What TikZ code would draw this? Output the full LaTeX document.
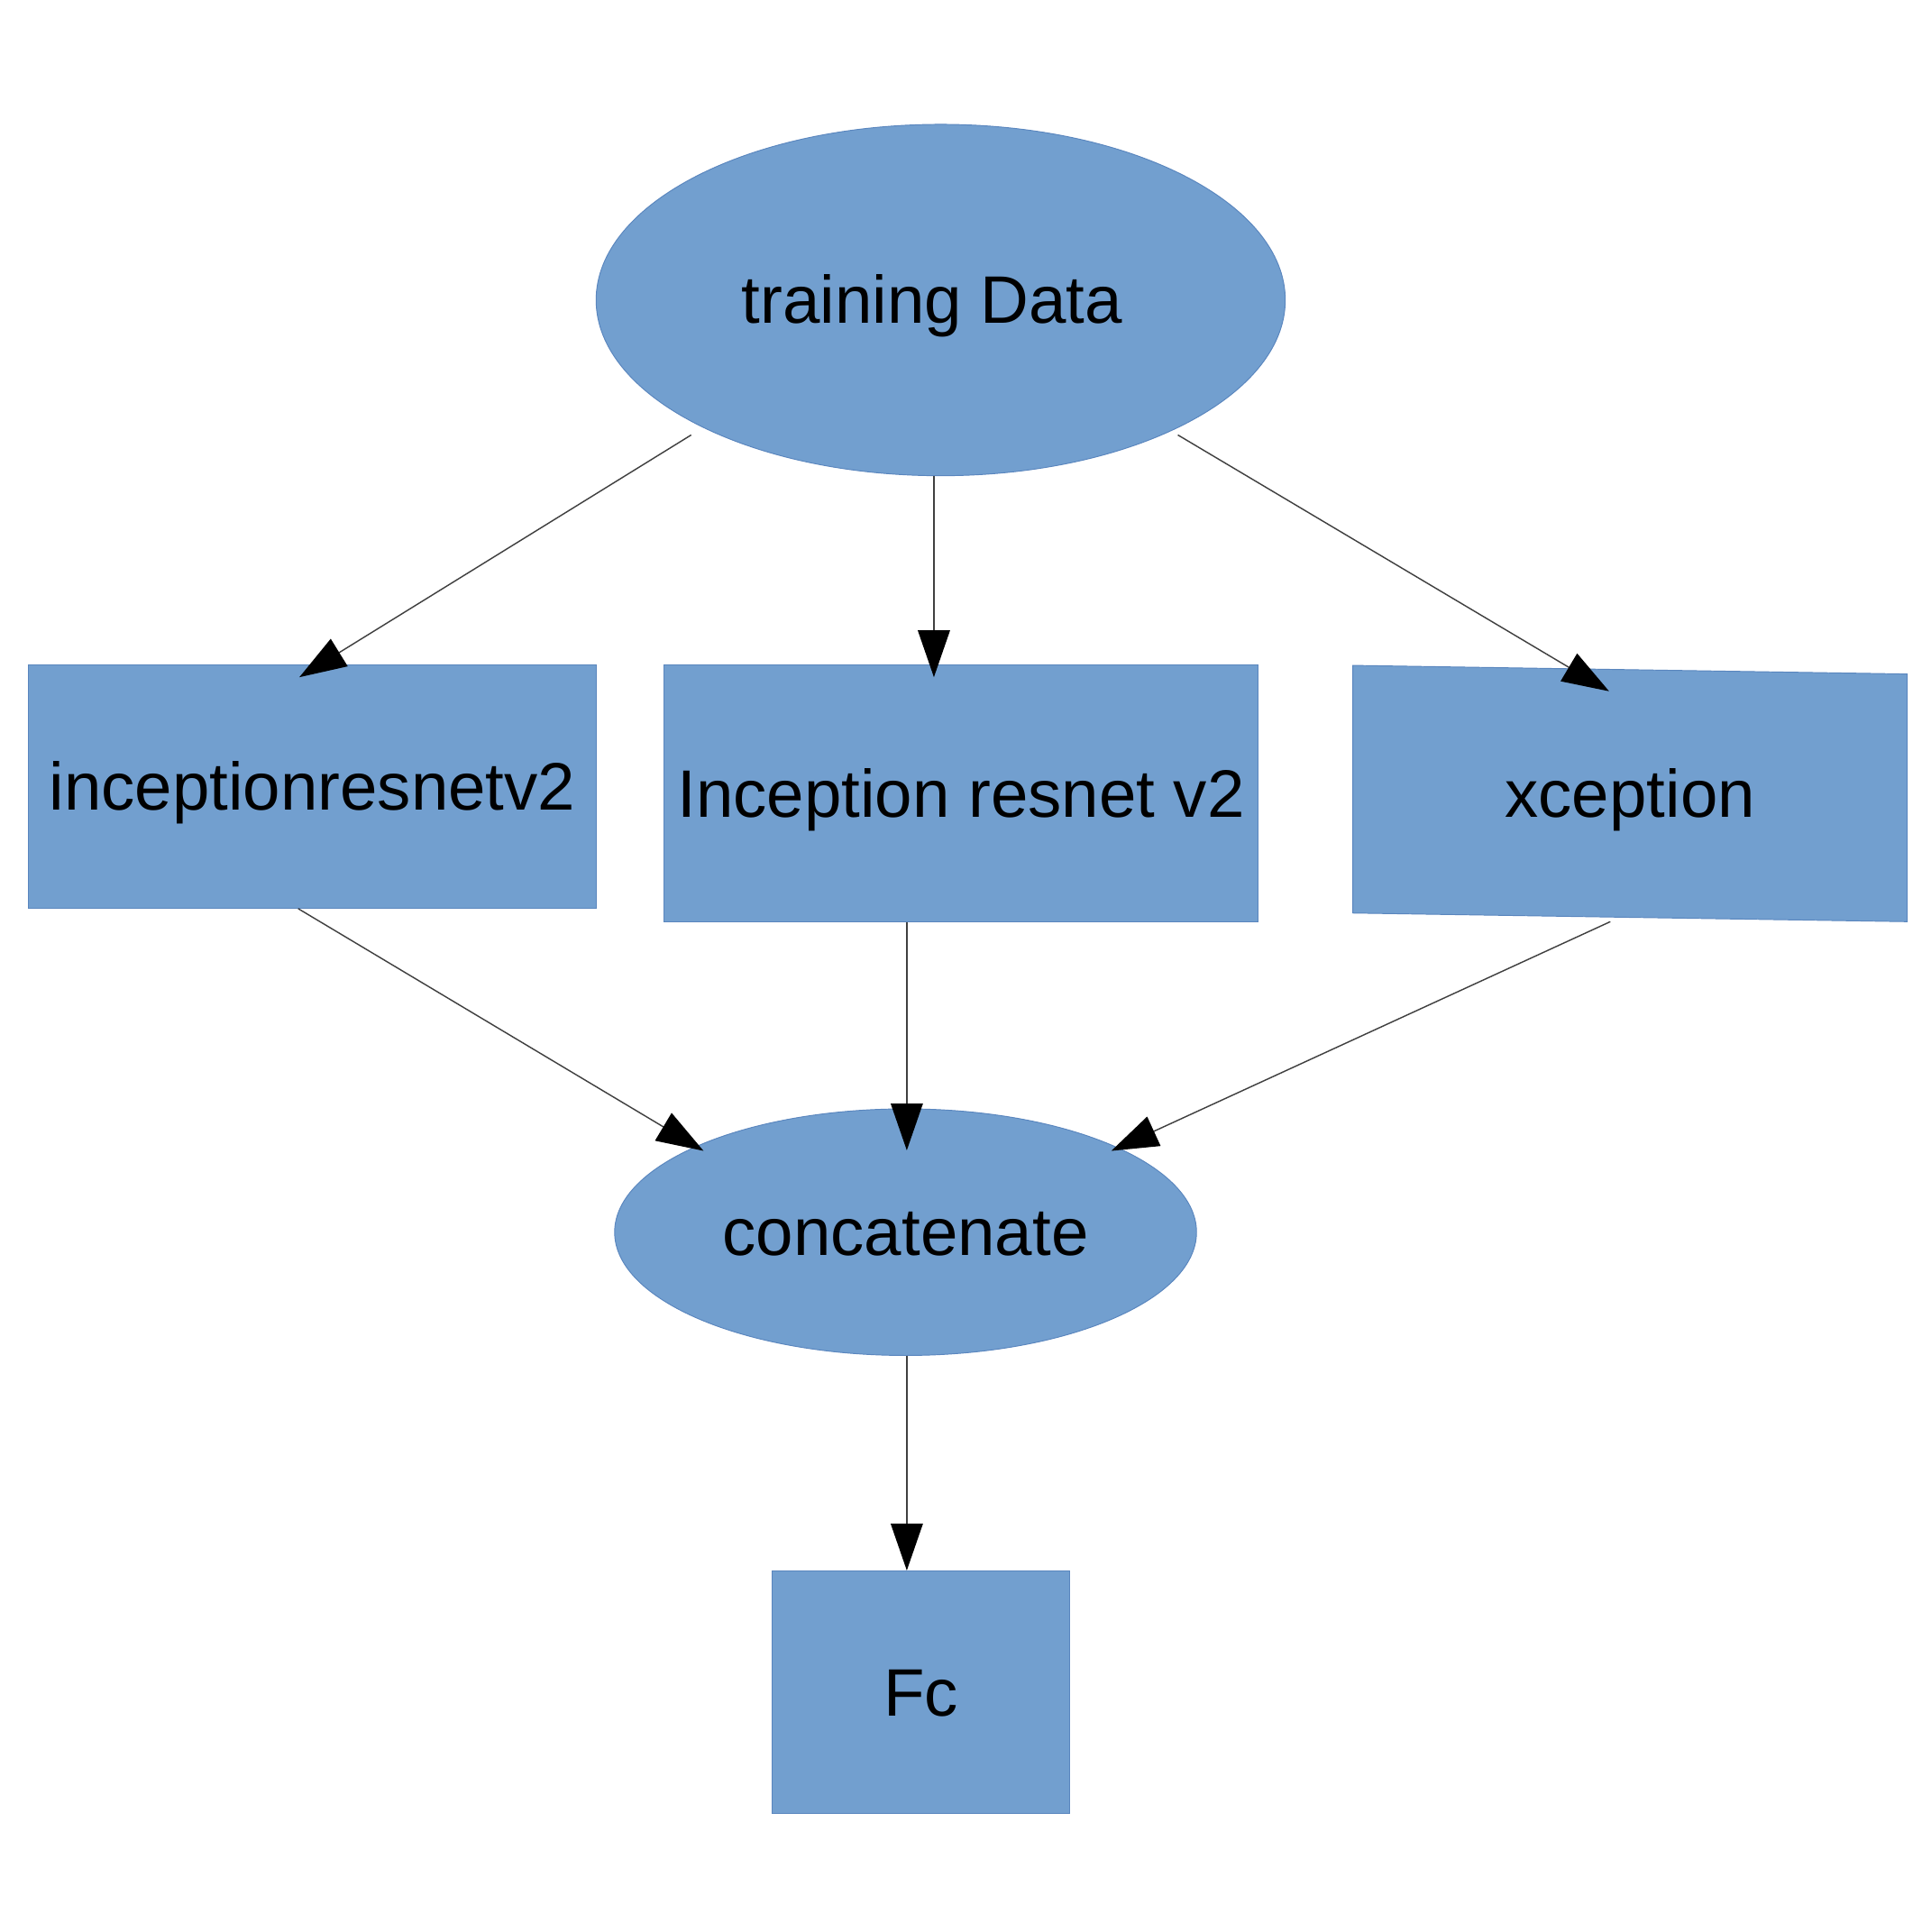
\documentclass[tikz,border=0pt]{standalone}
\usepackage{fontspec}
\setmainfont{Liberation Sans}
\usetikzlibrary{arrows.meta,shapes.geometric}

\definecolor{boxfill}{HTML}{729FCF}
\definecolor{boxedge}{HTML}{5A86BE}

\tikzset{%
    blocktext/.style = {%
        inner sep = 0pt,
        text height = 13pt,
        text depth = 2.2pt,
        font = \fontsize{15.5}{18}\selectfont,
    },
    blockbox/.style = {%
        blocktext,
        rectangle,
        fill = boxfill,
        draw = boxedge,
        line width = 0.2pt,
    },
    blockoval/.style = {%
        blockbox,
        ellipse,
    },
    flowarrow/.style = {%
        draw = black!75,
        line width = 0.3pt,
        -{Triangle[length = 0.38cm, width = 0.26cm, color = black]},
    },
}

\begin{document}
\begin{tikzpicture}[x = 0.01cm, y = -0.01cm]

        % Page frame, measured from the top left corner.
        \useasboundingbox (0, 0) rectangle (1567, 1568);

        % Input and the three backbones.
        \node[blockoval, minimum width = 5.59cm, minimum height = 2.85cm]
            (data) at (763.5, 243.5) {training Data\kern0.14cm};
        \node[blockbox, minimum width = 4.61cm, minimum height = 1.97cm]
            (irv) at (253.5, 638.5) {inceptionresnetv2};
        \node[blockbox, minimum width = 4.82cm, minimum height = 2.08cm]
            (irvtwo) at (780, 644) {Inception resnet v2};

        % The xception block is slightly skewed, so it is filled by hand.
        \filldraw[fill = boxfill, draw = boxedge, line width = 0.2pt]
            (1098, 540) -- (1548, 547) -- (1548, 748) -- (1098, 741) -- cycle;
        \node[blocktext] (xcp) at (1323, 644) {xception};

        % Merge and output.
        \node[blockoval, minimum width = 4.72cm, minimum height = 2.00cm]
            (concat) at (735, 1000) {concatenate};
        \node[blockbox, minimum width = 2.41cm, minimum height = 1.97cm]
            (fc) at (747.5, 1373.5) {Fc};

        % Connectors, with the arrow tips running a little into the blocks.
        \draw[flowarrow] ([shift = {(-202.5, 109.5)}]data.center) to ([shift = {(-10.5, 10)}]irv.north);
        \draw[flowarrow] ([shift = {(-5.5, 0)}]data.south) to ([shift = {(-22, 10)}]irvtwo.north);
        \draw[flowarrow] ([shift = {(192.5, 109.5)}]data.center) to ([shift = {(-17, -83)}]xcp.center);
        \draw[flowarrow] ([shift = {(-11.5, 0)}]irv.south) to ([shift = {(-164, -66)}]concat.center);
        \draw[flowarrow] ([shift = {(-44, 0)}]irvtwo.south) to ([shift = {(1, 34)}]concat.north);
        \draw[flowarrow] ([shift = {(-16, 104)}]xcp.center) to ([shift = {(167, -66)}]concat.center);
        \draw[flowarrow] ([shift = {(1, 0)}]concat.south) to ([shift = {(-11.5, 0)}]fc.north);
    \end{tikzpicture}
\end{document}
